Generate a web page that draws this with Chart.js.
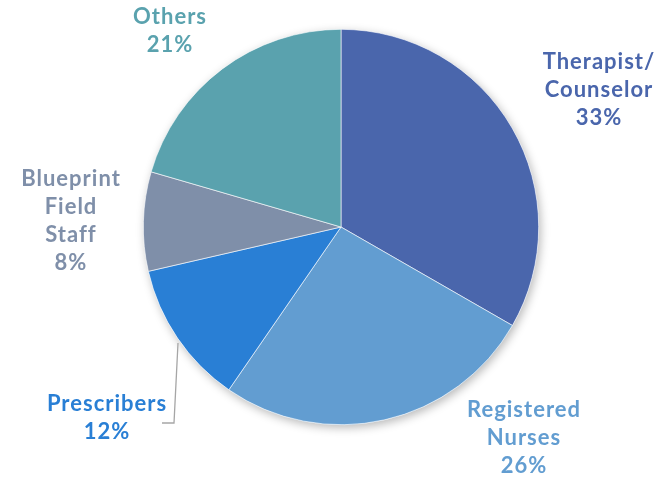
<!DOCTYPE html>
<html>
<head>
<meta charset="utf-8">
<script src="https://cdn.jsdelivr.net/npm/chart.js@4.4.1/dist/chart.umd.min.js"></script>
<style>
  html, body { margin: 0; padding: 0; background: #fff; }
  #wrap { width: 664px; height: 482px; }
</style>
</head>
<body>
<div id="wrap"><canvas id="pieChart"></canvas></div>
<script>
// data
const labels = [['Therapist/', 'Counselor'], ['Registered', 'Nurses'], ['Prescribers'], ['Blueprint', 'Field', 'Staff'], ['Others']];
const values = [33.3, 26.3, 11.8, 8.1, 20.5];
const pctLabels = ['33%', '26%', '12%', '8%', '21%'];
const colors = ['#4A66AC', '#629DD1', '#297FD5', '#7F8FA9', '#5AA2AE'];

// label centre offsets from the pie centre (px)
const labelPos = [[258, -137], [183, 211], [-234, 191], [-270, -6], [-171, -196]];

// soft shadow under the pie
const pieShadow = {
    id: 'pieShadow',
    beforeDatasetsDraw(chart) {
        const arc = chart.getDatasetMeta(0).data[0];
        if (!arc) return;
        const c = chart.ctx;
        c.save();
        c.shadowColor = 'rgba(0,0,0,0.28)';
        c.shadowBlur = 10;
        c.shadowOffsetX = 2;
        c.shadowOffsetY = 3;
        c.fillStyle = '#fff';
        c.beginPath();
        c.arc(arc.x, arc.y, arc.outerRadius, 0, Math.PI * 2);
        c.fill();
        c.restore();
    }
};

// outside labels + leader line for Prescribers
const sliceLabels = {
    id: 'sliceLabels',
    afterDatasetsDraw(chart) {
        const meta = chart.getDatasetMeta(0);
        const c = chart.ctx;
        const cx = meta.data[0].x, cy = meta.data[0].y;

        // leader line
        c.save();
        c.strokeStyle = '#A6A6A6';
        c.lineWidth = 1.3;
        c.beginPath();
        c.moveTo(cx - 163, cy + 116);
        c.lineTo(cx - 167, cy + 196);
        c.lineTo(cx - 179, cy + 196);
        c.stroke();
        c.restore();

        c.save();
        c.font = 'bold 22px Lato';
        c.letterSpacing = '1px';
        c.textAlign = 'center';
        c.textBaseline = 'middle';
        const lh = 27.8;
        pctLabels.forEach((p, i) => {
            const lines = labels[i].concat([p]);
            const x = cx + labelPos[i][0];
            const y0 = cy + labelPos[i][1] - (lines.length - 1) * lh / 2;
            c.fillStyle = colors[i];
            lines.forEach((t, j) => c.fillText(t, x, y0 + j * lh));
        });
        c.restore();
    }
};

const ctx = document.getElementById('pieChart').getContext('2d');
new Chart(ctx, {
    type: 'pie',
    data: {
        labels: labels.map(l => l.join(' ')),
        datasets: [{
            data: values,
            backgroundColor: colors,
            borderColor: '#ffffff',
            borderWidth: 0.6
        }]
    },
    options: {
        responsive: true,
        maintainAspectRatio: false,
        animation: false,
        layout: { padding: { top: 29, bottom: 57, left: 18, right: 0 } },
        plugins: {
            legend: { display: false },
            tooltip: { enabled: false }
        }
    },
    plugins: [pieShadow, sliceLabels]
});
</script>
</body>
</html>
